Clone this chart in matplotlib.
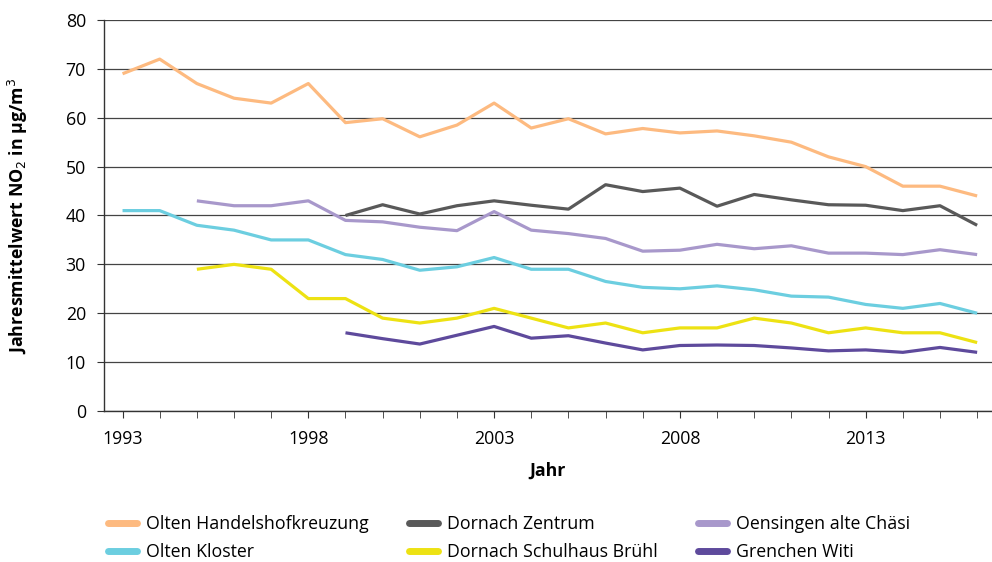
import matplotlib
matplotlib.use('Agg')
import matplotlib.pyplot as plt
import numpy as np

matplotlib.rcParams['font.family'] = ['Open Sans', 'DejaVu Sans']

years = list(range(1993, 2017))

# Jahresmittelwerte NO2 (µg/m3), None = keine Messung
olten_handelshof = [69, 72, 67, 64, 63, 67, 59, 59.8, 56.1, 58.5, 63, 57.9, 59.8, 56.7, 57.8, 56.9, 57.3, 56.3, 55, 52, 50, 46, 46, 44]
dornach_zentrum = [None] * 6 + [40, 42.2, 40.3, 42, 43, 42.1, 41.3, 46.3, 44.9, 45.6, 41.9, 44.3, 43.2, 42.2, 42.1, 41, 42, 38]
oensingen = [None] * 2 + [43, 42, 42, 43, 39, 38.7, 37.6, 36.9, 40.8, 37, 36.3, 35.3, 32.7, 32.9, 34.1, 33.2, 33.8, 32.3, 32.3, 32, 33, 32]
olten_kloster = [41, 41, 38, 37, 35, 35, 32, 31, 28.8, 29.5, 31.4, 29, 29, 26.5, 25.3, 25, 25.6, 24.8, 23.5, 23.3, 21.8, 21, 22, 20]
dornach_bruehl = [None] * 2 + [29, 30, 29, 23, 23, 19, 18, 19, 21, 19, 17, 18, 16, 17, 17, 19, 18, 16, 17, 16, 16, 14]
grenchen = [None] * 6 + [16, 14.8, 13.7, 15.5, 17.3, 14.9, 15.4, 13.9, 12.5, 13.4, 13.5, 13.4, 12.9, 12.3, 12.5, 12, 13, 12]

series = [
    ('Olten Handelshofkreuzung', olten_handelshof, '#FDBA80'),
    ('Olten Kloster', olten_kloster, '#6CCEE0'),
    ('Dornach Zentrum', dornach_zentrum, '#595959'),
    ('Dornach Schulhaus Brühl', dornach_bruehl, '#EDE213'),
    ('Oensingen alte Chäsi', oensingen, '#A898CB'),
    ('Grenchen Witi', grenchen, '#5E4A9C'),
]

fs = 12.8

fig = plt.figure(figsize=(9.92, 5.62), dpi=100)
ax = fig.add_axes([0.1048, 0.2687, 0.8952, 0.6957])

for name, vals, col in series:
    v = np.array([np.nan if x is None else x for x in vals], dtype=float)
    ax.plot(years, v, color=col, lw=2.3, label=name, solid_capstyle='butt')

ax.set_xlim(1992.5, 2016.4)
ax.set_ylim(0, 80)
ax.set_yticks(range(0, 81, 10))
ax.set_xticks(years, minor=True)
ax.set_xticks(range(1993, 2017, 5))
ax.tick_params(axis='x', which='both', length=5, color='#333333', direction='out')
ax.tick_params(axis='x', which='major', labelsize=fs, pad=9)
ax.tick_params(axis='y', length=5, color='#333333', labelsize=fs, pad=8)
ax.grid(axis='y', color='#444444', lw=0.9)
ax.set_axisbelow(True)
for s in ['top', 'right']:
    ax.spines[s].set_visible(False)
for s in ['left', 'bottom']:
    ax.spines[s].set_color('#333333')
    ax.spines[s].set_linewidth(1)

ax.set_xlabel('Jahr', fontsize=fs, fontweight='bold')
ax.xaxis.set_label_coords(0.499, -0.13)
ax.set_ylabel('Jahresmittelwert NO$_2$ in µg/m$^3$', fontsize=fs, fontweight='bold')
ax.yaxis.set_label_coords(-0.083, 0.5)

handles, labels = ax.get_legend_handles_labels()
fig.legend(handles, labels, ncol=3, loc='lower left', bbox_to_anchor=(0.093, -0.027),
           frameon=False, fontsize=fs, handlelength=1.6, handletextpad=0.5,
           columnspacing=2.3, labelspacing=0.55)
for line in fig.legends[0].get_lines():
    line.set_linewidth(5)
    line.set_solid_capstyle('round')

fig.savefig('out.png', dpi=100)
